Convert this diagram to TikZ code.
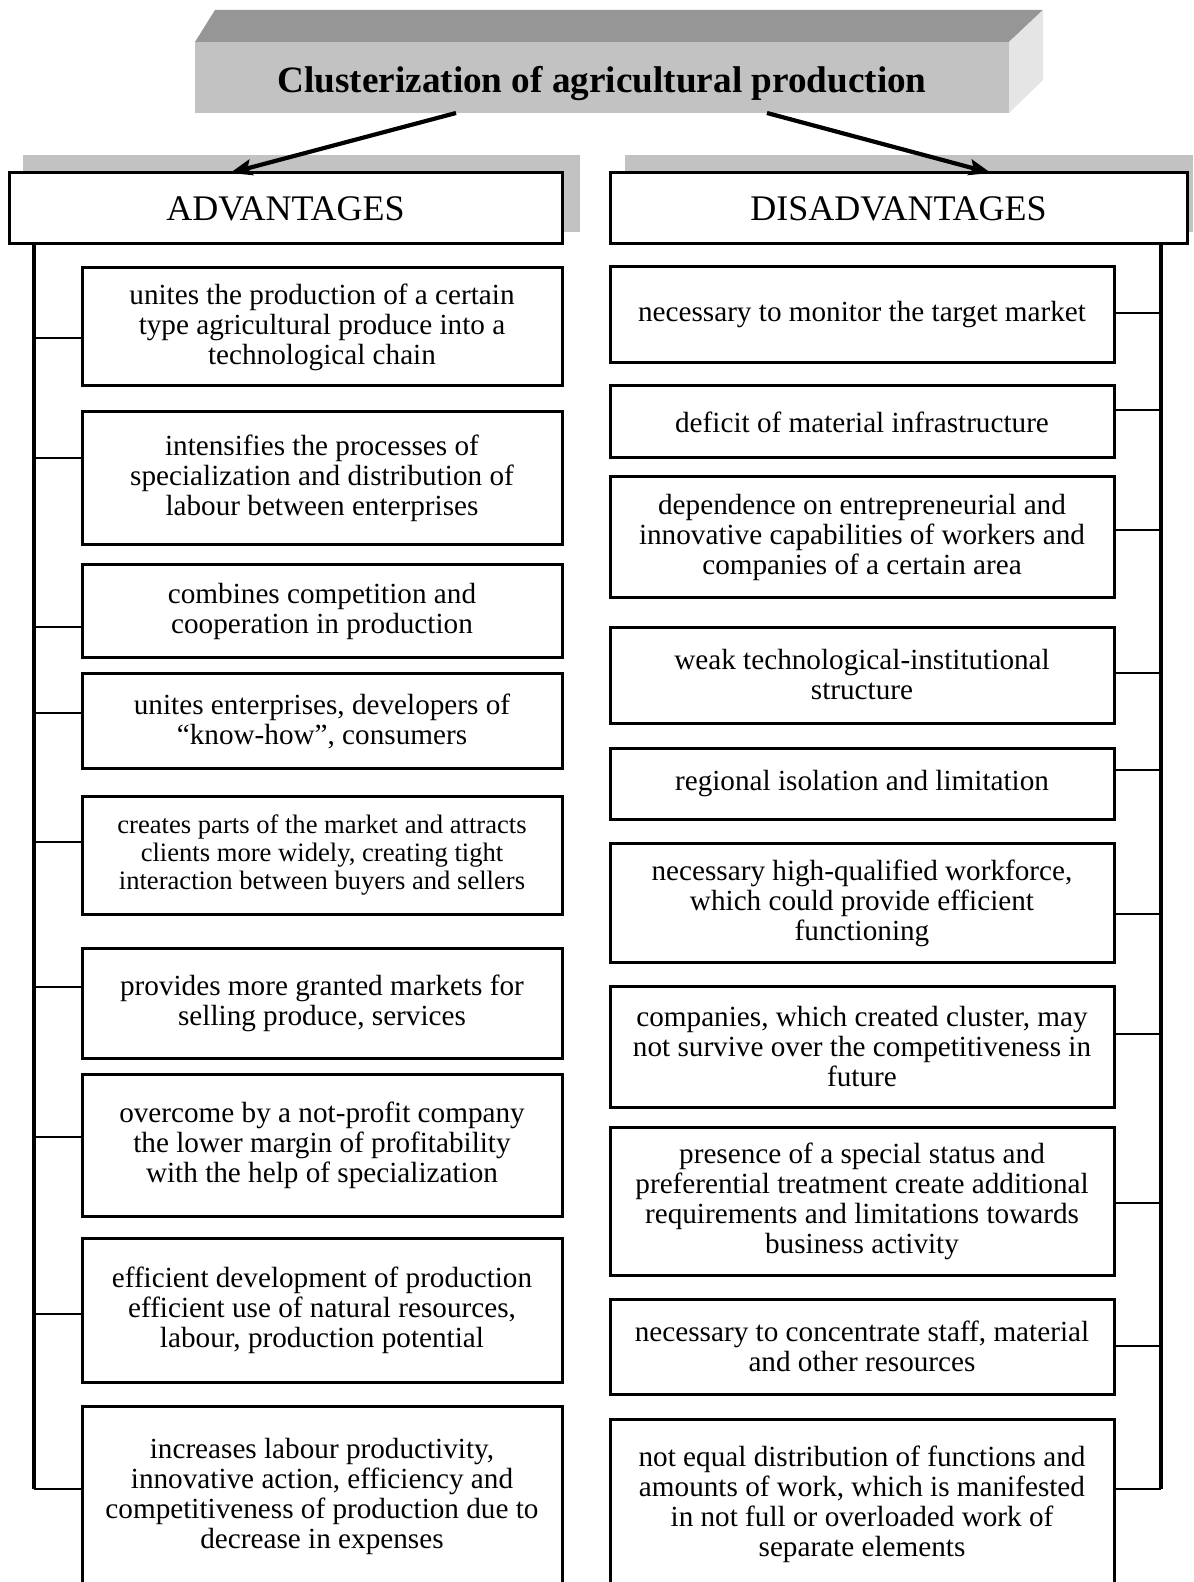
\documentclass[tikz,border=0pt]{standalone}
\usepackage{fontspec}
\setmainfont{Liberation Serif}
\usetikzlibrary{arrows.meta}

\definecolor{frontgray}{gray}{0.76}
\definecolor{topgray}{gray}{0.59}
\definecolor{sidegray}{gray}{0.90}
\definecolor{shadowgray}{gray}{0.76}

\tikzset{
  itembox/.style={draw, line width=1.5pt, fill=white, align=center,
    inner sep=0pt, font=\fontsize{14.6}{15}\selectfont},
  leftbox/.style={itembox, minimum width=240pt},
  rightbox/.style={itembox, minimum width=252pt},
  headbox/.style={draw, line width=1.5pt, fill=white, inner sep=0pt,
    minimum height=35.5pt, font=\fontsize{18}{20}\selectfont},
  trunk/.style={line width=1.75pt},
  tick/.style={line width=0.75pt},
  linkarrow/.style={line width=2.1pt, -{Stealth[length=11pt,width=8pt,inset=2pt]}}
}

\begin{document}
\begin{tikzpicture}[x=0.5pt,y=-0.5pt]
\useasboundingbox (0,0) rectangle (1193,1582);
\clip (0,0) rectangle (1193,1582);

% three-dimensional title block
\fill[topgray] (195,42) -- (215,10) -- (1043,10) -- (1009,42) -- cycle;
\fill[sidegray] (1009,42) -- (1043,10) -- (1043,80) -- (1009,113) -- cycle;
\node[fill=frontgray, inner sep=0pt, minimum width=407pt, minimum height=35.5pt]
  (title) at (602,77.5) {};
\node[font=\bfseries\fontsize{18.6}{20}\selectfont] (titletext) at (602,84)
  {Clusterization of agricultural production};

% header shadows and headers
\fill[shadowgray] (23,155) rectangle (580,232);
\fill[shadowgray] (625,155) rectangle (1193,232);
\node[headbox, minimum width=276.5pt] (adv) at (285.5,208.5) {ADVANTAGES};
\node[headbox, minimum width=288.5pt] (dis) at (898.5,208.5) {DISADVANTAGES};

% arrows from the title to the headers
\coordinate (srcL) at (456,113);
\coordinate (srcR) at (767,113);
\coordinate (dstL) at (230,173);
\coordinate (dstR) at (991,173);
\draw[linkarrow] (srcL) -- (dstL);
\draw[linkarrow] (srcR) -- (dstR);

% advantages
\node[leftbox, minimum height=59pt] (a1) at (322,327)
  {unites the production of a certain\\type agricultural produce into a\\technological chain};
\node[leftbox, minimum height=66pt] (a2) at (322,478)
  {intensifies the processes of\\specialization and distribution of\\labour between enterprises};
\node[leftbox, minimum height=46.5pt] (a3) at (322,611)
  {combines competition and\\cooperation in production};
\node[leftbox, minimum height=47.5pt] (a4) at (322,721)
  {unites enterprises, developers of\\“know-how”, consumers};
\node[leftbox, minimum height=59pt, font=\fontsize{13.3}{14}\selectfont] (a5) at (322,855)
  {creates parts of the market and attracts\\clients more widely, creating tight\\interaction between buyers and sellers};
\node[leftbox, minimum height=55pt] (a6) at (322,1003)
  {provides more granted markets for\\selling produce, services};
\node[leftbox, minimum height=71pt] (a7) at (322,1145)
  {overcome by a not-profit company\\the lower margin of profitability\\with the help of specialization};
\node[leftbox, minimum height=72pt] (a8) at (322,1310.5)
  {efficient development of production\\efficient use of natural resources,\\labour, production potential};
\node[leftbox, minimum height=90pt] (a9) at (322,1496.5)
  {increases labour productivity,\\innovative action, efficiency and\\competitiveness of production due to\\decrease in expenses};

% disadvantages
\node[rightbox, minimum height=48pt] (d1) at (862,315)
  {necessary to monitor the target market};
\node[rightbox, minimum height=36pt] (d2) at (862,422)
  {deficit of material infrastructure};
\node[rightbox, minimum height=60pt] (d3) at (862,537)
  {dependence on entrepreneurial and\\innovative capabilities of workers and\\companies of a certain area};
\node[rightbox, minimum height=48pt] (d4) at (862,675)
  {weak technological-institutional\\structure};
\node[rightbox, minimum height=35.5pt] (d5) at (862,784)
  {regional isolation and limitation};
\node[rightbox, minimum height=59.5pt] (d6) at (862,903)
  {necessary high-qualified workforce,\\which could provide efficient\\functioning};
\node[rightbox, minimum height=60.5pt] (d7) at (862,1046.5)
  {companies, which created cluster, may\\not survive over the competitiveness in\\future};
\node[rightbox, minimum height=74pt] (d8) at (862,1201)
  {presence of a special status and\\preferential treatment create additional\\requirements and limitations towards\\business activity};
\node[rightbox, minimum height=47.5pt] (d9) at (862,1346.5)
  {necessary to concentrate staff, material\\and other resources};
\node[rightbox, minimum height=85pt] (d10) at (862,1504)
  {not equal distribution of functions and\\amounts of work, which is manifested\\in not full or overloaded work of\\separate elements};

% left trunk and its branches
\foreach \i/\y in {1/338,2/458,3/627,4/713,5/842,6/987,7/1137,8/1314,9/1489}
  \coordinate (lt\i) at (34,\y);
\draw[trunk] (adv.south -| lt1) -- (lt9);
\foreach \i in {1,...,9}
  \draw[tick] (lt\i) -- (a\i.west |- lt\i);

% right trunk and its branches
\foreach \i/\y in {1/313,2/410,3/530,4/673,5/770,6/914,7/1034,8/1203,9/1346,10/1489}
  \coordinate (rt\i) at (1161,\y);
\draw[trunk] (dis.south -| rt1) -- (rt10);
\foreach \i in {1,...,10}
  \draw[tick] (rt\i) -- (d\i.east |- rt\i);
\end{tikzpicture}
\end{document}
